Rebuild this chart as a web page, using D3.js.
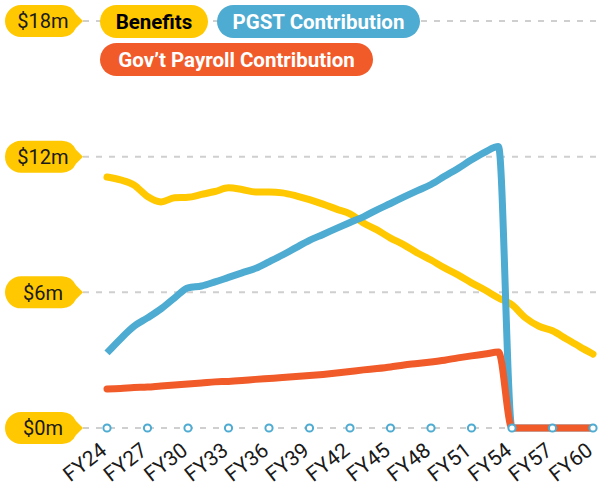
<!DOCTYPE html>
<html>
<head>
<meta charset="utf-8">
<script src="https://cdn.jsdelivr.net/npm/d3@7"></script>
<style>
  html, body { margin: 0; padding: 0; background: #fff; }
  svg { display: block; }
</style>
</head>
<body>
<svg id="chart" width="598" height="487"></svg>
<script>
// ---- data ----
const years = ["FY24","FY25","FY26","FY27","FY28","FY29","FY30","FY31","FY32","FY33","FY34","FY35","FY36","FY37","FY38","FY39","FY40","FY41","FY42","FY43","FY44","FY45","FY46","FY47","FY48","FY49","FY50","FY51","FY52","FY53","FY54","FY55","FY56","FY57","FY58","FY59","FY60"];
const benefits = [11.1, 10.97, 10.75, 10.24, 10.0, 10.18, 10.2, 10.33, 10.46, 10.62, 10.55, 10.44, 10.44, 10.4, 10.27, 10.1, 9.9, 9.68, 9.47, 9.07, 8.76, 8.4, 8.1, 7.74, 7.43, 7.08, 6.77, 6.42, 6.1, 5.75, 5.45, 4.87, 4.5, 4.3, 3.95, 3.6, 3.27];
const pgst = [3.32, 3.94, 4.5, 4.87, 5.27, 5.75, 6.2, 6.28, 6.46, 6.66, 6.86, 7.06, 7.35, 7.65, 7.98, 8.3, 8.56, 8.83, 9.09, 9.34, 9.65, 9.93, 10.22, 10.5, 10.77, 11.13, 11.48, 11.86, 12.2, 12.45, 0, 0, 0, 0, 0, 0, 0];
const payroll = [1.73, 1.75, 1.79, 1.81, 1.86, 1.9, 1.95, 1.99, 2.04, 2.06, 2.1, 2.15, 2.19, 2.23, 2.28, 2.32, 2.37, 2.43, 2.5, 2.57, 2.63, 2.7, 2.79, 2.85, 2.92, 3.0, 3.1, 3.19, 3.27, 3.36, 0, 0, 0, 0, 0, 0, 0];
const xTickLabels = ["FY24","FY27","FY30","FY33","FY36","FY39","FY42","FY45","FY48","FY51","FY54","FY57","FY60"];
const yTicks = [0, 6, 12, 18];
const yTickLabels = ["$0m", "$6m", "$12m", "$18m"];
const seriesNames = ["Benefits", "PGST Contribution", "Gov\u2019t Payroll Contribution"];

// ---- styles ----
const YELLOW = "#FFC800", BLUE = "#4EABD1", ORANGE = "#F15A29";
const FONT = "Roboto, 'DejaVu Sans', sans-serif";

const svg = d3.select("#chart");
const x = d3.scalePoint().domain(years).range([107, 593]);
const y = d3.scaleLinear().domain([0, 18]).range([428, 21]);

// gridlines
svg.append("g").selectAll("line").data(yTicks).join("line")
  .attr("x1", 83).attr("x2", 598)
  .attr("y1", d => y(d)).attr("y2", d => y(d))
  .attr("stroke", "#cfcfcf").attr("stroke-width", 2)
  .attr("stroke-dasharray", "6,7");

// lines
const line = vals => d3.line()
  .x((d, i) => x(years[i]))
  .y(d => y(d))
  .curve(d3.curveMonotoneX)(vals);

const series = [
  { vals: benefits, color: YELLOW, cap: "round" },
  { vals: pgst, color: BLUE, cap: "butt" },
  { vals: payroll, color: ORANGE, cap: "round" }
];
svg.append("g").selectAll("path").data(series).join("path")
  .attr("d", d => line(d.vals))
  .attr("fill", "none")
  .attr("stroke", d => d.color)
  .attr("stroke-width", 7)
  .attr("stroke-linecap", d => d.cap)
  .attr("stroke-linejoin", "round");

// x ticks: circles on the zero line
svg.append("g").selectAll("circle").data(xTickLabels).join("circle")
  .attr("cx", d => x(d)).attr("cy", y(0)).attr("r", 3.6)
  .attr("fill", "#fff").attr("stroke", BLUE).attr("stroke-width", 2);

// x tick labels
svg.append("g").selectAll("text").data(xTickLabels).join("text")
  .attr("transform", d => `translate(${x(d) + 1},${y(0) + 25}) rotate(-38)`)
  .attr("text-anchor", "end")
  .attr("font-family", FONT)
  .attr("font-size", 21)
  .attr("fill", "#1a1a1a")
  .text(d => d);

// y labels as pills with a pointer
const yl = svg.append("g").selectAll("g").data(yTicks).join("g")
  .attr("transform", d => `translate(0,${y(d)})`);
yl.append("path")
  .attr("d", "M21,-16 H62 A16,16 0 0 1 76,-7 L83,0 L76,7 A16,16 0 0 1 62,16 H21 A16,16 0 0 1 21,-16 Z")
  .attr("fill", YELLOW);
yl.append("text")
  .attr("x", 43).attr("y", 0).attr("dy", "0.36em")
  .attr("text-anchor", "middle")
  .attr("font-family", FONT).attr("font-size", 20)
  .attr("fill", "#1a1a1a")
  .text((d, i) => yTickLabels[i]);

// legend pills
const legend = [
  { name: seriesNames[0], x: 100, y: 21.5, w: 108, fill: YELLOW, text: "#000" },
  { name: seriesNames[1], x: 217, y: 21.5, w: 203, fill: BLUE, text: "#fff" },
  { name: seriesNames[2], x: 100, y: 59.5, w: 273, fill: ORANGE, text: "#fff" }
];
const lg = svg.append("g").selectAll("g").data(legend).join("g")
  .attr("transform", d => `translate(${d.x},${d.y})`);
lg.append("rect")
  .attr("x", 0).attr("y", -16.5).attr("width", d => d.w).attr("height", 33)
  .attr("rx", 16.5).attr("fill", d => d.fill);
lg.append("text")
  .attr("x", d => d.w / 2).attr("y", 0).attr("dy", "0.36em")
  .attr("text-anchor", "middle")
  .attr("font-family", FONT).attr("font-size", 20.5).attr("font-weight", "bold")
  .attr("fill", d => d.text)
  .text(d => d.name);
</script>
</body>
</html>
